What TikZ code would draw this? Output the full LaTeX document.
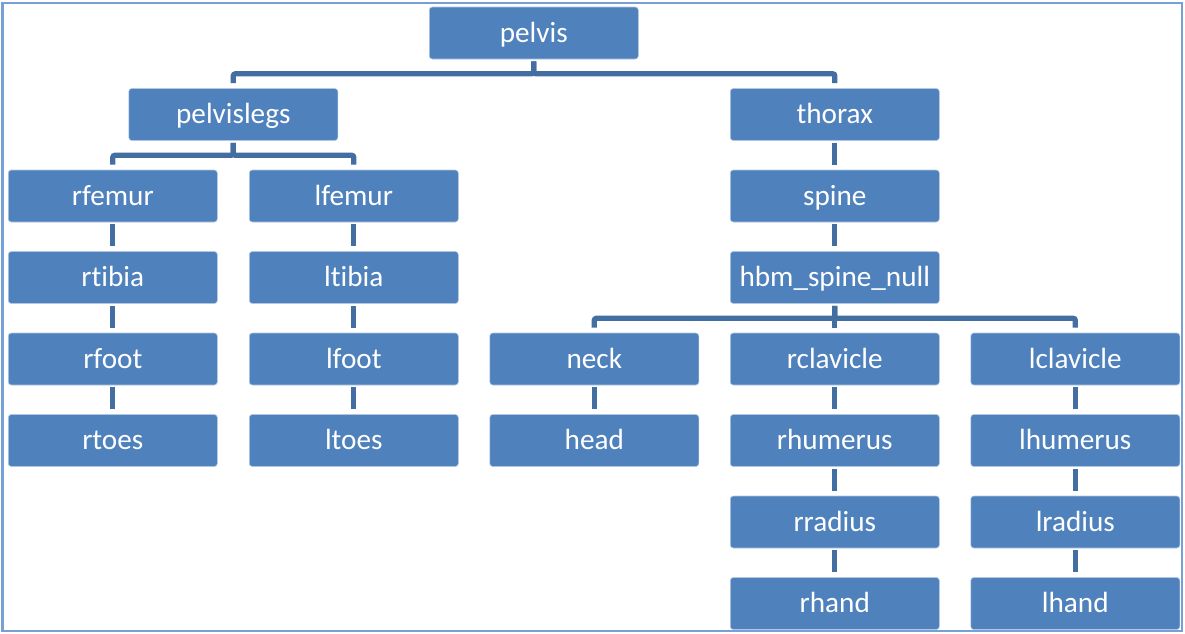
\documentclass[tikz,border=0pt]{standalone}
\usepackage{fontspec}
\setmainfont{Carlito}[Ligatures=NoCommon]
\definecolor{boxblue}{RGB}{79,129,189}
\definecolor{linkblue}{RGB}{66,110,162}
\definecolor{frameblue}{RGB}{118,160,214}
\begin{document}
\begin{tikzpicture}[x=0.5pt,y=-0.5pt,
  bone/.style={draw=white!55!boxblue, line width=0.3pt, fill=boxblue,
    rounded corners=1.5pt, minimum width=104.5pt, minimum height=26pt,
    inner sep=0pt, text=white, font=\fontsize{14.6}{16}\selectfont,
    text height=10pt, text depth=1pt},
  link/.style={draw=linkblue, line width=2.6pt, rounded corners=1pt,
    shorten <=1pt, shorten >=2.5pt},
  drop/.style={link}]
\useasboundingbox (0,0) rectangle (1185,633);
% outer frame
\draw[frameblue, line width=1.4pt] (2.5,3) rectangle (1182,631);

% root and first level
\node[bone] (pelvis)     at (533.8,33)    {pelvis};
\node[bone] (pelvislegs) at (233.3,114.5) {pelvislegs};
\node[bone] (thorax)     at (834.8,114.5) {thorax};

% legs
\node[bone] (rfemur) at (112.8,196)   {rfemur};
\node[bone] (lfemur) at (353.8,196)   {lfemur};
\node[bone] (rtibia) at (112.8,277.5) {rtibia};
\node[bone] (ltibia) at (353.8,277.5) {ltibia};
\node[bone] (rfoot)  at (112.8,359)   {rfoot};
\node[bone] (lfoot)  at (353.8,359)   {lfoot};
\node[bone] (rtoes)  at (112.8,440.5) {rtoes};
\node[bone] (ltoes)  at (353.8,440.5) {ltoes};

% spine and upper body
\node[bone] (spine)     at (834.8,196)   {spine};
\node[bone] (hbm)       at (834.8,277.5) {hbm\_spine\_null};
\node[bone] (neck)      at (594.3,359)   {neck};
\node[bone] (rclavicle) at (834.8,359)   {rclavicle};
\node[bone] (lclavicle) at (1075.3,359)  {lclavicle};
\node[bone] (head)      at (594.3,440.5) {head};
\node[bone] (rhumerus)  at (834.8,440.5) {rhumerus};
\node[bone] (lhumerus)  at (1075.3,440.5){lhumerus};
\node[bone] (rradius)   at (834.8,522)   {rradius};
\node[bone] (lradius)   at (1075.3,522)  {lradius};
\node[bone] (rhand)     at (834.8,603.5) {rhand};
\node[bone] (lhand)     at (1075.3,603.5){lhand};

% branching connectors
\foreach \p/\c in {pelvis/pelvislegs, pelvis/thorax,
                   pelvislegs/rfemur, pelvislegs/lfemur,
                   hbm/neck, hbm/rclavicle, hbm/lclavicle}
  \draw[link] (\p.south) -- ++(0,14.5) -| (\c.north);

% straight chains
\foreach \p/\c in {rfemur/rtibia, rtibia/rfoot, rfoot/rtoes,
                   lfemur/ltibia, ltibia/lfoot, lfoot/ltoes,
                   thorax/spine, spine/hbm, neck/head,
                   rclavicle/rhumerus, rhumerus/rradius, rradius/rhand,
                   lclavicle/lhumerus, lhumerus/lradius, lradius/lhand}
  \draw[drop] (\p.south) -- (\c.north);
\end{tikzpicture}
\end{document}
